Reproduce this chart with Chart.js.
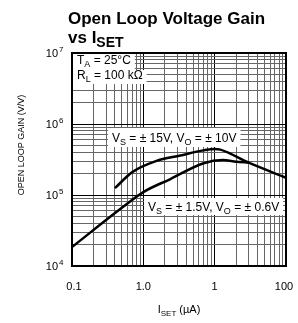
<!DOCTYPE html>
<html>
<head>
<meta charset="utf-8">
<script src="https://cdn.jsdelivr.net/npm/chart.js@4.4.1/dist/chart.umd.min.js"></script>
<style>
html, body { margin: 0; padding: 0; background: #fff; }
</style>
</head>
<body>
<canvas id="grafico" width="298" height="323"></canvas>
<script>
// valores (I_SET en uA, ganancia en V/V)
const isetAlto = [0.4, 0.7, 1.5, 3.3, 7, 10, 12, 30, 100];
const gananciaAlto = [1.25e5, 2.1e5, 3.0e5, 3.6e5, 4.25e5, 4.45e5, 4.35e5, 2.85e5, 1.75e5];
const isetBajo = [0.1, 0.5, 1.0, 2.4, 7, 13, 20, 30];
const gananciaBajo = [1.85e4, 6.6e4, 1.1e5, 1.68e5, 2.8e5, 3.1e5, 2.95e5, 2.85e5];

const xTicks = [0.1, 1, 10, 100];
const xTickLabels = ['0.1', '1.0', '1', '100'];
const yTicks = [1e4, 1e5, 1e6, 1e7];
const yTickExps = ['4', '5', '6', '7'];

const fuente = '"Liberation Sans", Arial, Helvetica, sans-serif';

// lineas de rejilla: 1..9 en cada decada
function rejilla(mayores) {
	const valores = [];
	for (let i = 0; i < mayores.length - 1; i++) {
		for (let k = 1; k < 10; k++) valores.push(k * mayores[i]);
	}
	valores.push(mayores[mayores.length - 1]);
	return valores.map(v => ({ value: v }));
}

function esMayor(v) {
	const l = Math.log10(v);
	return Math.abs(l - Math.round(l)) < 1e-6;
}

function colorRejilla(ctx) {
	if (!ctx.tick) return '#666';
	return esMayor(ctx.tick.value) ? '#000' : '#666';
}

// texto con subindices: partes = [{t, s, dy, b}]
function escribir(ctx, x, y, partes, alinear) {
	let ancho = 0;
	partes.forEach(p => {
		ctx.font = (p.b ? 'bold ' : '') + p.s + 'px ' + fuente;
		ancho += ctx.measureText(p.t).width;
	});
	let cx = x;
	if (alinear === 'center') cx = x - ancho / 2;
	if (alinear === 'right') cx = x - ancho;
	const inicio = cx;
	ctx.textAlign = 'left';
	ctx.textBaseline = 'alphabetic';
	partes.forEach(p => {
		ctx.font = (p.b ? 'bold ' : '') + p.s + 'px ' + fuente;
		ctx.fillText(p.t, cx, y + (p.dy || 0));
		cx += ctx.measureText(p.t).width;
	});
	return { x0: inicio, x1: inicio + ancho };
}

function etiquetaConCaja(ctx, x, y, partes, cajaArriba, cajaAbajo) {
	// primero medir, luego caja blanca y texto
	ctx.save();
	ctx.fillStyle = '#fff';
	let ancho = 0;
	partes.forEach(p => {
		ctx.font = p.s + 'px ' + fuente;
		ancho += ctx.measureText(p.t).width;
	});
	ctx.fillRect(x - 4, cajaArriba, ancho + 8, cajaAbajo - cajaArriba);
	ctx.fillStyle = '#000';
	escribir(ctx, x, y, partes, 'left');
	ctx.restore();
}

const textos = {
	id: 'textos',
	beforeDatasetsDraw(chart) {
		const ctx = chart.ctx;
		const a = chart.chartArea;
		ctx.save();
		ctx.fillStyle = '#fff';
		etiquetaConCaja(ctx, 77, 64, [
			{ t: 'T', s: 12 }, { t: 'A', s: 9, dy: 3 }, { t: ' = 25\u00b0C', s: 12 }
		], a.top, 70);
		etiquetaConCaja(ctx, 77, 79, [
			{ t: 'R', s: 12 }, { t: 'L', s: 9, dy: 3 }, { t: ' = 100 k\u03a9', s: 12 }
		], 70, 84);
		etiquetaConCaja(ctx, 112, 142, [
			{ t: 'V', s: 12 }, { t: 'S', s: 9, dy: 3 }, { t: ' = \u00b1 15V, V', s: 12 },
			{ t: 'O', s: 9, dy: 3 }, { t: ' = \u00b1 10V', s: 12 }
		], 128, 147);
		etiquetaConCaja(ctx, 148, 211, [
			{ t: 'V', s: 12 }, { t: 'S', s: 9, dy: 3 }, { t: ' = \u00b1 1.5V, V', s: 12 },
			{ t: 'O', s: 9, dy: 3 }, { t: ' = \u00b1 0.6V', s: 12 }
		], 198, 215);
		ctx.restore();
	},
	afterDraw(chart) {
		const ctx = chart.ctx;
		const a = chart.chartArea;
		const sx = chart.scales.x;
		const sy = chart.scales.y;
		ctx.save();
		ctx.fillStyle = '#000';

		// marco
		ctx.strokeStyle = '#000';
		ctx.lineWidth = 2;
		ctx.strokeRect(a.left, a.top, a.right - a.left, a.bottom - a.top);

		// etiquetas eje y
		yTicks.forEach((v, i) => {
			const py = sy.getPixelForValue(v);
			escribir(ctx, 58, py + 4, [{ t: '10', s: 11 }], 'right');
			escribir(ctx, 59, py - 1, [{ t: yTickExps[i], s: 8 }], 'left');
		});

		// etiquetas eje x
		xTicks.forEach((v, i) => {
			let px = sx.getPixelForValue(v);
			if (i === 0) px += 2;
			if (i === xTicks.length - 1) px -= 2;
			escribir(ctx, px, 290, [{ t: xTickLabels[i], s: 11 }], 'center');
		});

		// titulo eje x
		escribir(ctx, (a.left + a.right) / 2, 313, [
			{ t: 'I', s: 11 }, { t: 'SET', s: 8, dy: 3 }, { t: ' (\u00b5A)', s: 11 }
		], 'center');

		// titulo eje y
		ctx.save();
		ctx.translate(24, 145);
		ctx.rotate(-Math.PI / 2);
		escribir(ctx, 0, 0, [{ t: 'OPEN LOOP GAIN (V/V)', s: 9 }], 'center');
		ctx.restore();

		// titulo
		escribir(ctx, 68, 24, [{ t: 'Open Loop Voltage Gain', s: 17, b: true }], 'left');
		escribir(ctx, 68, 43, [
			{ t: 'vs I', s: 17, b: true }, { t: 'SET', s: 14, b: true, dy: 4 }
		], 'left');

		ctx.restore();
	}
};

const ctx = document.getElementById('grafico').getContext('2d');
const grafico = new Chart(ctx, {
	type: 'line',
	data: {
		datasets: [
			{
				label: 'VS = 15V',
				data: isetAlto.map((x, i) => ({ x: x, y: gananciaAlto[i] })),
				borderColor: '#000',
				borderWidth: 2.5,
				cubicInterpolationMode: 'monotone',
				pointRadius: 0,
				fill: false
			},
			{
				label: 'VS = 1.5V',
				data: isetBajo.map((x, i) => ({ x: x, y: gananciaBajo[i] })),
				borderColor: '#000',
				borderWidth: 2.5,
				cubicInterpolationMode: 'monotone',
				pointRadius: 0,
				fill: false
			}
		]
	},
	options: {
		responsive: false,
		animation: false,
		layout: { padding: { top: 53, right: 12, left: 0, bottom: 0 } },
		plugins: {
			legend: { display: false },
			tooltip: { enabled: false },
			title: { display: false }
		},
		scales: {
			x: {
				type: 'logarithmic',
				min: 0.1,
				max: 100,
				afterBuildTicks: s => { s.ticks = rejilla(xTicks); },
				afterFit: s => { s.height = 57; },
				ticks: { display: false, autoSkip: false },
				grid: { color: colorRejilla, lineWidth: 1, drawTicks: false },
				border: { display: false }
			},
			y: {
				type: 'logarithmic',
				min: 1e4,
				max: 1e7,
				afterBuildTicks: s => { s.ticks = rejilla(yTicks); },
				afterFit: s => { s.width = 72; },
				ticks: { display: false, autoSkip: false },
				grid: { color: colorRejilla, lineWidth: 1, drawTicks: false },
				border: { display: false }
			}
		}
	},
	plugins: [textos]
});
</script>
</body>
</html>
